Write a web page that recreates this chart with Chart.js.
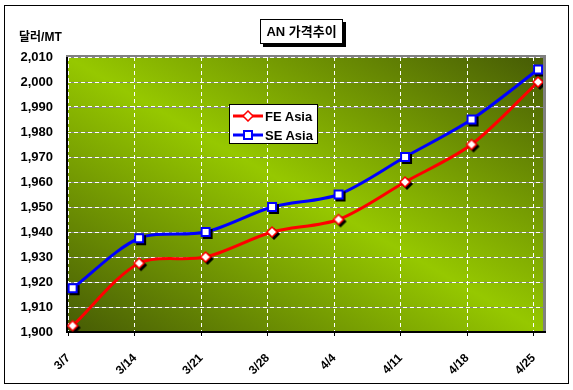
<!DOCTYPE html>
<html>
<head>
<meta charset="utf-8">
<script src="https://cdn.jsdelivr.net/npm/chart.js@4/dist/chart.umd.min.js"></script>
<style>
    body { margin: 0; background: #fff; }
    #wrap { position: relative; width: 573px; height: 390px; font-family: "Liberation Sans", "Noto Sans CJK KR", sans-serif; }
    #frame { position: absolute; left: 4px; top: 5px; width: 563px; height: 377px; border: 1px solid #000; }
    #chart { position: absolute; left: 0; top: 0; }
    #title { position: absolute; left: 260px; top: 19px; width: 81px; height: 23px; line-height: 23px; border: 1px solid #000;
             background: #fff; box-shadow: 3px 3px 0 #000; text-align: center; font-weight: bold; font-size: 13px; }
    #unit { position: absolute; left: 19px; top: 27px; font-weight: bold; font-size: 12px; }
    #legend { position: absolute; left: 229px; top: 104px; width: 87px; height: 38px; border: 1px solid #000; background: #fff; }
    .row { position: absolute; left: 3px; height: 16px; display: flex; align-items: center; font-weight: bold; font-size: 13px; }
    .row canvas { margin-right: 2px; }
</style>
</head>
<body>
<div id="wrap">
    <div id="frame"></div>
    <canvas id="chart" width="573" height="390"></canvas>
    <div id="title">AN 가격추이</div>
    <div id="unit">달러/MT</div>
    <div id="legend"></div>
</div>
<script>
    const labels = ['3/7', '3/14', '3/21', '3/28', '4/4', '4/11', '4/18', '4/25'];
    const feAsia = [1902.5, 1927.5, 1930, 1940, 1945, 1960, 1975, 2000];
    const seAsia = [1917.5, 1937.5, 1940, 1950, 1955, 1970, 1985, 2005];
    const yTicks = [1900, 1910, 1920, 1930, 1940, 1950, 1960, 1970, 1980, 1990, 2000, 2010];

    // draws one marker (diamond or square) centred at cx, cy
    function drawMarker(x, shape, color, cx, cy, withShadow) {
        const shapePath = (ox, oy) => {
            x.beginPath();
            if (shape === 'diamond') {
                x.moveTo(ox, oy - 5); x.lineTo(ox + 5, oy); x.lineTo(ox, oy + 5); x.lineTo(ox - 5, oy); x.closePath();
            } else {
                x.rect(ox - 4, oy - 4, 8, 8);
            }
        };
        if (withShadow) {
            shapePath(cx + 2, cy + 2);
            x.fillStyle = '#000'; x.fill();
            x.lineWidth = shape === 'diamond' ? 1.5 : 2; x.strokeStyle = '#000'; x.stroke();
        }
        shapePath(cx, cy);
        x.fillStyle = '#fff'; x.fill();
        x.lineWidth = shape === 'diamond' ? 1.5 : 2;
        x.strokeStyle = color; x.stroke();
    }

    function markerCanvas(shape, color) {
        const c = document.createElement('canvas');
        c.width = 18; c.height = 18;
        drawMarker(c.getContext('2d'), shape, color, 9, 9, true);
        return c;
    }

    function legendCanvas(shape, color) {
        const c = document.createElement('canvas');
        c.width = 30; c.height = 12;
        const x = c.getContext('2d');
        x.strokeStyle = color; x.lineWidth = 3;
        x.beginPath(); x.moveTo(0, 6); x.lineTo(30, 6); x.stroke();
        drawMarker(x, shape, color, 15, 6, false);
        return c;
    }

    // build the legend box
    const legendEl = document.getElementById('legend');
    [['FE Asia', 'diamond', '#ff0000'], ['SE Asia', 'square', '#0000ff']].forEach((it, i) => {
        const row = document.createElement('div');
        row.className = 'row';
        row.style.top = (3 + i * 19) + 'px';
        row.appendChild(legendCanvas(it[1], it[2]));
        const t = document.createElement('span');
        t.textContent = it[0];
        row.appendChild(t);
        legendEl.appendChild(row);
    });

    // gradient plot background, grey under-lines for the dashed grid, plot frame
    const plotBg = {
        id: 'plotBg',
        beforeDraw(chart) {
            const { ctx, chartArea: a } = chart;
            const w = a.right - a.left, h = a.bottom - a.top;
            const cx = a.left + w / 2, cy = a.top + h / 2;
            const k = w * h / (w * w + h * h);
            const g = ctx.createLinearGradient(cx - k * h, cy + k * w, cx + k * h, cy - k * w);
            g.addColorStop(0, '#465b05');
            g.addColorStop(0.5, '#96c800');
            g.addColorStop(1, '#465b05');
            ctx.save();
            ctx.fillStyle = g;
            ctx.fillRect(a.left, a.top, w, h);
            ctx.strokeStyle = '#8a8a8a';
            ctx.lineWidth = 1;
            const ys = chart.scales.y;
            ys.ticks.forEach(t => {
                const y = Math.round(ys.getPixelForValue(t.value)) + 0.5;
                ctx.beginPath(); ctx.moveTo(a.left, y); ctx.lineTo(a.right, y); ctx.stroke();
            });
            ctx.restore();
        },
        beforeDatasetsDraw(chart) {
            const { ctx, chartArea: a } = chart;
            ctx.save();
            ctx.fillStyle = '#808080';
            ctx.fillRect(a.left - 1, a.top - 2, a.right - a.left + 4, 2);
            ctx.fillRect(a.right, a.top - 2, 3, a.bottom - a.top + 2);
            ctx.fillStyle = '#000';
            ctx.fillRect(a.left - 1, a.top, 2, a.bottom - a.top + 1);
            ctx.fillRect(a.left - 1, a.bottom - 1, a.right - a.left + 4, 2);
            ctx.restore();
        }
    };

    const tickFont = { family: '"Liberation Sans", Arial, sans-serif', size: 13, weight: 'bold' };

    new Chart(document.getElementById('chart'), {
        type: 'line',
        data: {
            datasets: [
                {
                    label: 'FE Asia',
                    data: feAsia.map((v, i) => ({ x: i, y: v })),
                    borderColor: '#ff0000',
                    borderWidth: 3,
                    tension: 0.3,
                    pointStyle: markerCanvas('diamond', '#ff0000')
                },
                {
                    label: 'SE Asia',
                    data: seAsia.map((v, i) => ({ x: i, y: v })),
                    borderColor: '#0000ff',
                    borderWidth: 3,
                    tension: 0.3,
                    pointStyle: markerCanvas('square', '#0000ff')
                }
            ]
        },
        options: {
            responsive: false,
            animation: false,
            events: [],
            layout: { padding: { top: 57, right: 30, bottom: 0, left: 0 } },
            plugins: { legend: { display: false }, tooltip: { enabled: false } },
            scales: {
                x: {
                    type: 'linear',
                    min: -0.084,
                    max: 7.075,
                    afterBuildTicks: s => { s.ticks = labels.map((l, i) => ({ value: i - 0.065 })); },
                    afterFit: s => { s.height = 58; },
                    ticks: {
                        autoSkip: false, minRotation: 45, maxRotation: 45, padding: 15,
                        color: '#000', font: { ...tickFont, size: 12 },
                        callback: v => labels[Math.round(v)]
                    },
                    grid: { color: '#ffffff', lineWidth: 1, drawTicks: true, tickLength: 4, tickColor: '#000', tickBorderDash: [] },
                    border: { display: false, dash: [4, 3] }
                },
                y: {
                    min: 1900,
                    max: 2010,
                    afterBuildTicks: s => { s.ticks = yTicks.map(v => ({ value: v })); },
                    afterFit: s => { s.width = 67; },
                    ticks: {
                        padding: 14, color: '#000', font: tickFont,
                        callback: v => v.toLocaleString('en-US')
                    },
                    grid: { color: '#ffffff', lineWidth: 1, drawTicks: false },
                    border: { display: false, dash: [4, 3] }
                }
            }
        },
        plugins: [plotBg]
    });
</script>
</body>
</html>
